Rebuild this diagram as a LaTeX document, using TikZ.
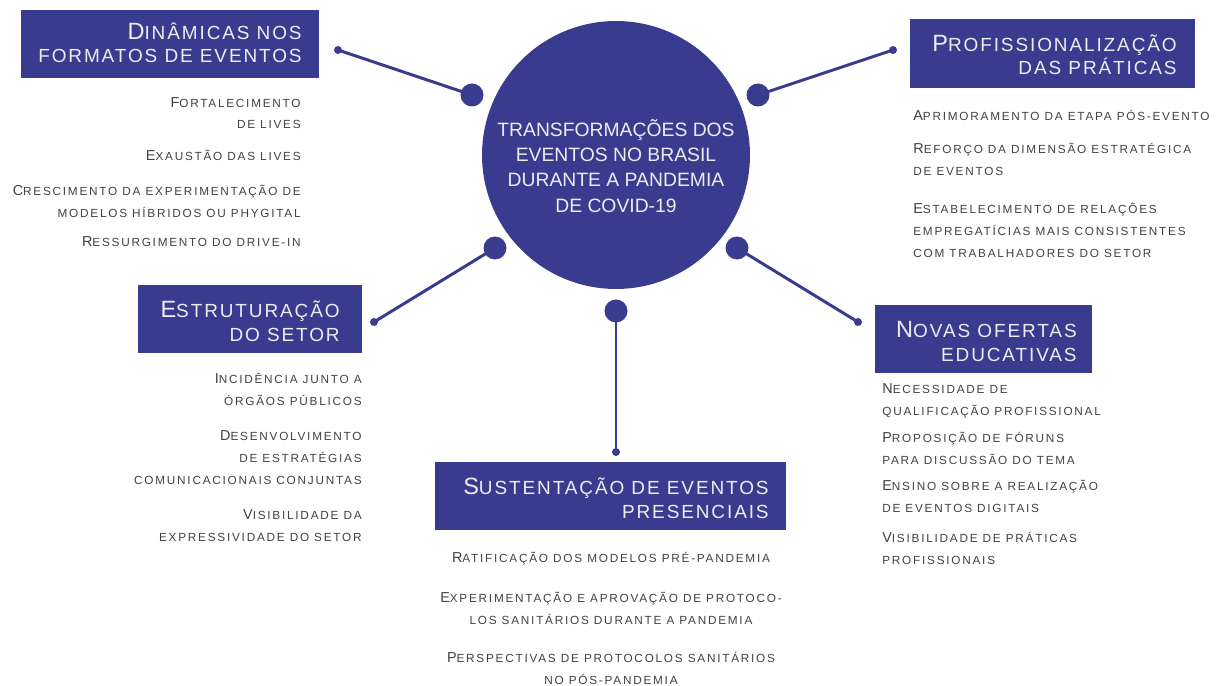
\documentclass[tikz,border=0pt]{standalone}
\usepackage{fontspec}
\setmainfont{Liberation Sans}
\newfontfamily\itemfamily[LetterSpace=15]{Liberation Sans}
\newfontfamily\titlefamily[LetterSpace=10]{Liberation Sans}
\definecolor{hubblue}{RGB}{57,60,142}
\definecolor{itemgray}{RGB}{64,64,72}
\definecolor{titlewhite}{RGB}{236,236,242}
% small letters set as reduced capitals
\newcommand\lc[1]{{\fontsize{\lcsize}{\lcsize}\selectfont\MakeUppercase{#1}}}
\tikzset{
  itemtext/.style={font=\itemfamily\fontsize{8.2}{12.5}\selectfont\def\lcsize{6.7}, text=itemgray, inner sep=0pt},
  titletext/.style={font=\titlefamily\fontsize{13.4}{13.6}\selectfont\def\lcsize{10.8}, text=titlewhite, inner sep=0pt, align=right, anchor=base east},
  hub/.style={circle, fill=hubblue, minimum size=5.36cm, inner sep=0pt},
  hubtext/.style={text=titlewhite, align=center, inner sep=0pt, font=\fontsize{11}{14.3}\selectfont},
  bigdot/.style={circle, fill=hubblue, minimum size=0.46cm, inner sep=0pt},
  enddot/.style={circle, fill=hubblue, minimum size=0.16cm, inner sep=0pt},
  link/.style={hubblue, line width=1.7pt}
}
\begin{document}
\begin{tikzpicture}[x=0.02cm,y=-0.02cm]
 \useasboundingbox (0,0) rectangle (1225,686);
 % centre
 \node[hub] (hub) at (616,155) {};
 \node[hubtext] (hubt) at (616,166) {TRANSFORMAÇÕES DOS\\EVENTOS NO BRASIL\\DURANTE A PANDEMIA\\DE COVID-19};
 \node[bigdot] (d1) at (472,95) {};
 \node[bigdot] (d2) at (758,95) {};
 \node[bigdot] (d3) at (495,248) {};
 \node[bigdot] (d4) at (737,248) {};
 \node[bigdot] (d5) at (616,311) {};
 \node[enddot] (e1) at (338,50) {};
 \node[enddot] (e2) at (893,50) {};
 \node[enddot] (e3) at (374,322) {};
 \node[enddot] (e4) at (858,322) {};
 \node[enddot] (e5) at (616,452) {};
 \draw[link] (d1.center) -- (e1.center);
 \draw[link] (d2.center) -- (e2.center);
 \draw[link] (d3.center) -- (e3.center);
 \draw[link] (d4.center) -- (e4.center);
 \draw[link] (d5.center) -- (e5.center);
 % boxes
 \fill[hubblue] (21,10) rectangle (319,78);
 \fill[hubblue] (910,19) rectangle (1195,88);
 \fill[hubblue] (138,285) rectangle (362,353);
 \fill[hubblue] (875,305) rectangle (1092,373);
 \fill[hubblue] (435,462) rectangle (786,530);
 % titles, placed at the baseline of their last line
 \node[titletext] (t1) at (302,63) {D\lc{inâmicas nos}\\\lc{formatos de eventos}};
 \node[titletext] (t2) at (1177,75) {P\lc{rofissionalização}\\\lc{das práticas}};
 \node[titletext] (t3) at (340,341) {E\lc{struturação}\\\lc{do setor}};
 \node[titletext] (t4) at (1077,361) {N\lc{ovas ofertas}\\\lc{educativas}};
 \node[titletext] (t5) at (769,518) {S\lc{ustentação de eventos}\\\lc{presenciais}};
 % formatos
 \node[itemtext, align=right, anchor=base east] (f1) at (301,129) {F\lc{ortalecimento}\\\lc{de lives}};
 \node[itemtext, align=right, anchor=base east] (f2) at (301,161) {E\lc{xaustão das lives}};
 \node[itemtext, align=right, anchor=base east] (f3) at (301,217) {C\lc{rescimento da experimentação de}\\\lc{modelos híbridos ou phygital}};
 \node[itemtext, align=right, anchor=base east] (f4) at (301,247) {R\lc{essurgimento do drive-in}};
 % praticas
 \node[itemtext, align=left, anchor=base west] (p1) at (913,121) {A\lc{primoramento da etapa pós-evento}};
 \node[itemtext, align=left, anchor=base west] (p2) at (913,175) {R\lc{eforço da dimensão estratégica}\\\lc{de eventos}};
 \node[itemtext, align=left, anchor=base west] (p3) at (913,257) {E\lc{stabelecimento de relações}\\\lc{empregatícias mais consistentes}\\\lc{com trabalhadores do setor}};
 % setor
 \node[itemtext, align=right, anchor=base east] (s1) at (362,405) {I\lc{ncidência junto a}\\\lc{órgãos públicos}};
 \node[itemtext, align=right, anchor=base east] (s2) at (362,484) {D\lc{esenvolvimento}\\\lc{de estratégias}\\\lc{comunicacionais conjuntas}};
 \node[itemtext, align=right, anchor=base east] (s3) at (362,541) {V\lc{isibilidade da}\\\lc{expressividade do setor}};
 % ofertas
 \node[itemtext, align=left, anchor=base west] (o1) at (882,415) {N\lc{ecessidade de}\\\lc{qualificação profissional}};
 \node[itemtext, align=left, anchor=base west] (o2) at (882,464) {P\lc{roposição de fóruns}\\\lc{para discussão do tema}};
 \node[itemtext, align=left, anchor=base west] (o3) at (882,512) {E\lc{nsino sobre a realização}\\\lc{de eventos digitais}};
 \node[itemtext, align=left, anchor=base west] (o4) at (882,564) {V\lc{isibilidade de práticas}\\\lc{profissionais}};
 % presenciais
 \node[itemtext, align=center, anchor=base] (r1) at (611,562) {R\lc{atificação dos modelos pré-pandemia}};
 \node[itemtext, align=center, anchor=base] (r2) at (611,624) {E\lc{xperimentação e aprovação de protoco-}\\\lc{los sanitários durante a pandemia}};
 \node[itemtext, align=center, anchor=base] (r3) at (611,684) {P\lc{erspectivas de protocolos sanitários}\\\lc{no pós-pandemia}};
\end{tikzpicture}
\end{document}
